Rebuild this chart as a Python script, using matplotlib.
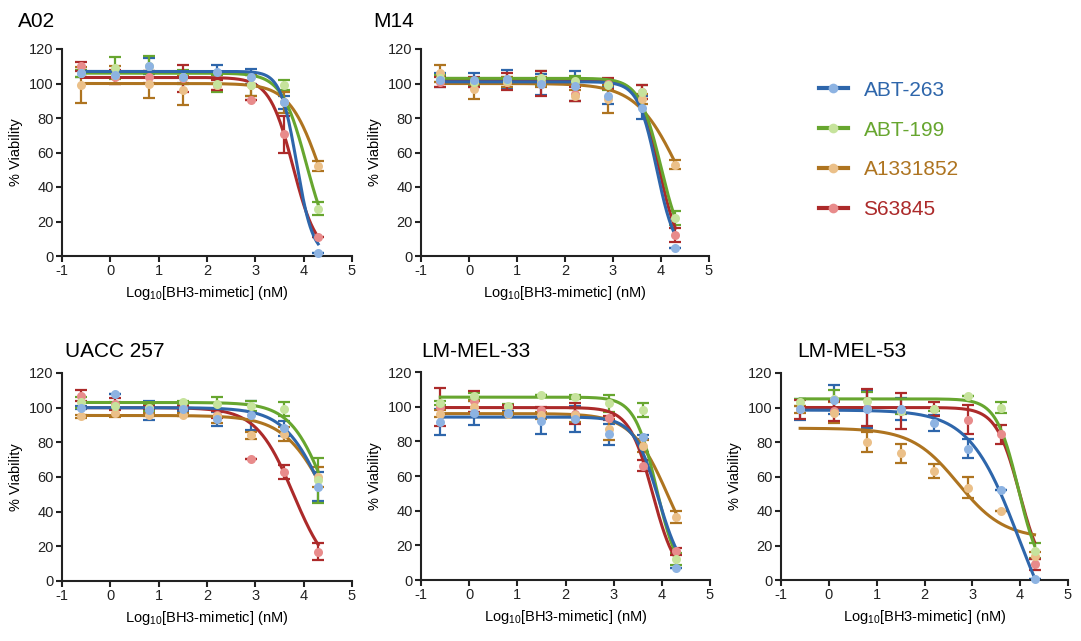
import numpy as np
import matplotlib
matplotlib.use("Agg")
import matplotlib.pyplot as plt
from matplotlib.lines import Line2D

plt.rcParams['font.family'] = ['Liberation Sans', 'DejaVu Sans']
plt.rcParams['mathtext.fontset'] = 'custom'
plt.rcParams['mathtext.rm'] = 'Liberation Sans'
plt.rcParams['axes.unicode_minus'] = False

# ==========================================
# DATA
# ==========================================
log_conc = [-0.6, 0.1, 0.8, 1.5, 2.2, 2.9, 3.6, 4.3]

drugs = ["ABT-263", "ABT-199", "A1331852", "S63845"]
line_colors = ["#2e66ab", "#67a62f", "#ae7420", "#ac2a2a"]
dot_colors = ["#8db3e2", "#c6e39c", "#ebc089", "#e88b8b"]

panels = ["A02", "M14", "UACC 257", "LM-MEL-33", "LM-MEL-53"]

# mean viability per drug (order as in drugs)
a02_mean = [
    [106, 105, 110, 103.5, 106.5, 104, 89, 2],
    [106, 109, 110, 104, 100, 99, 99, 27.5],
    [99, 105, 99.5, 96, 99, 99, 89, 52],
    [110, 104, 104, 103, 99, 90.5, 70.5, 11],
]
a02_err = [
    [2, 2, 4.5, 3, 4, 4.5, 4, 0],
    [2, 6.5, 6, 4, 5, 6, 3, 4],
    [10.5, 5, 8, 8.5, 3, 6, 6, 3],
    [2.5, 4, 3.5, 8, 3, 0, 10.5, 0],
]
m14_mean = [
    [102, 102, 102.5, 99.5, 98.5, 93, 86, 4.5],
    [103, 101, 102, 103, 101.5, 99, 95, 22],
    [106, 97, 101, 101, 93, 91, 91, 53],
    [101, 101, 101, 100, 94, 100, 95, 12],
]
m14_err = [
    [4, 4, 5.5, 6, 8.5, 5, 6.5, 0],
    [2, 2, 2, 4, 3, 3, 4, 4],
    [5, 6, 3, 3, 3, 8, 3, 2.5],
    [3, 3, 5, 7, 4, 3, 4, 4],
]
uacc_mean = [
    [100, 108, 98.5, 99, 93.5, 95.5, 88, 54.5],
    [103, 101, 100, 103, 102, 101, 99, 58],
    [95, 97, 96, 96, 95, 84, 85, 60],
    [107, 102, 100, 100, 96, 70.5, 63, 17],
]
uacc_err = [
    [1, 0, 5.5, 1, 4, 8.5, 4.5, 8.5],
    [3, 2, 2, 1, 4, 3, 4, 13],
    [1, 2.5, 1, 1, 4, 2, 4, 6],
    [3, 3.5, 1, 1, 2, 0, 4, 5],
]
mel33_mean = [
    [91, 96.5, 96.5, 91.5, 93, 84, 82.5, 7],
    [102, 106, 100.5, 107, 105.5, 102, 98, 12],
    [96, 100, 96, 95, 95, 87, 77.5, 36.5],
    [100, 103, 100, 98, 96, 93.5, 66, 16.5],
]
mel33_err = [
    [7.5, 7, 1, 7.5, 7.5, 6, 1, 0],
    [1, 2, 1, 0, 1, 5, 4, 3.5],
    [2, 3, 1, 2, 4, 6, 3.5, 3.5],
    [11, 6, 1, 2, 6, 1, 3, 2],
]
mel53_mean = [
    [99, 104.5, 99, 99, 91, 76, 52, 0.5],
    [103, 105, 104, 98, 99, 106.5, 100, 17],
    [99, 97, 80, 73.5, 63, 53.5, 40, 14],
    [99, 98, 100, 98, 99, 93, 84.5, 9],
]
mel53_err = [
    [6, 8.5, 11, 6.5, 4.5, 5.5, 0, 0],
    [2, 5, 5, 2, 1, 0, 3, 4.5],
    [2, 6, 6, 5.5, 4, 6, 0, 2],
    [5.5, 6, 10.5, 10.5, 4, 8.5, 5.5, 3],
]

# fitted 4PL parameters per drug: (top, bottom, logIC50, hill)
a02_fit = [(107, 0, 3.856, 2.6), (106, 0, 4.06, 1.69), (100, 0, 4.34, 1.36), (103.5, 0, 3.78, 1.78)]
m14_fit = [(101, 0, 3.91, 2.23), (103, 0, 4.0, 1.91), (100, 0, 4.37, 0.98), (102, 0, 3.96, 2.13)]
uacc_fit = [(100, 0, 4.43, 1.04), (103, 0, 4.47, 1.17), (95.5, 0, 4.5, 0.96), (100, 0, 3.79, 1.13)]
mel33_fit = [(94, 0, 3.93, 1.7), (105.5, 0, 3.89, 1.92), (96, 0, 4.14, 1.13), (99.5, 0, 3.81, 1.77)]
mel53_fit = [(98.5, -50, 3.97, 0.84), (105, 0, 3.965, 1.875), (88, 24, 2.7, 0.9), (100, 0, 3.99, 1.77)]

means = [a02_mean, m14_mean, uacc_mean, mel33_mean, mel53_mean]
errs = [a02_err, m14_err, uacc_err, mel33_err, mel53_err]
fits = [a02_fit, m14_fit, uacc_fit, mel33_fit, mel53_fit]


def four_pl(x, top, bottom, logic50, hill):
    return bottom + (top - bottom) / (1 + 10 ** ((x - logic50) * hill))


# ==========================================
# LAYOUT (pixel boxes of the axes in a 1081x641 canvas)
# ==========================================
W, H = 1081, 641
axes_px = [(62, 49, 290, 207), (421, 49, 288, 207),
           (62, 373, 290, 208), (421, 372, 289, 208), (781, 373, 287, 207)]
title_px = [(18, 27), (373, 27), (65, 357), (421, 357), (797, 357)]

fig = plt.figure(figsize=(W / 100, H / 100), dpi=100)
spine_c = "#222222"

for i, name in enumerate(panels):
    l, t, w, h = axes_px[i]
    ax = fig.add_axes([l / W, 1 - (t + h) / H, w / W, h / H])
    xs = np.linspace(log_conc[0], log_conc[-1], 300)
    # S63845 first, ABT-263 on top
    for d in [3, 2, 1, 0]:
        ax.errorbar(log_conc, means[i][d], yerr=errs[i][d], fmt='none',
                    ecolor=line_colors[d], elinewidth=1.6, capsize=4,
                    capthick=1.6, zorder=2 + d * 0.1, clip_on=False)
        ax.plot(xs, four_pl(xs, *fits[i][d]), color=line_colors[d],
                lw=2.2, zorder=3 + (3 - d) * 0.1, clip_on=False)
        ax.plot(log_conc, means[i][d], 'o', color=dot_colors[d], ms=6.5,
                mec='none', zorder=4 + (3 - d) * 0.1, clip_on=False)

    ax.set_xlim(-1, 5)
    ax.set_ylim(0, 120)
    ax.set_xticks(range(-1, 6))
    ax.set_yticks(range(0, 121, 20))
    for s in ['top', 'right']:
        ax.spines[s].set_visible(False)
    for s in ['left', 'bottom']:
        ax.spines[s].set_linewidth(1.5)
        ax.spines[s].set_color(spine_c)
    ax.tick_params(direction='out', length=4, width=1.5, color=spine_c,
                   labelsize=10.5, labelcolor="#222222", pad=2)
    ax.set_ylabel("% Viability", fontsize=10.5, labelpad=4)
    ax.set_xlabel(r"Log$_{\mathregular{10}}$[BH3-mimetic] (nM)", fontsize=10.5, labelpad=4)

    tx, ty = title_px[i]
    fig.text(tx / W, 1 - ty / H, name, fontsize=15, ha='left', va='baseline')

# legend in the empty top-right slot
handles = [Line2D([0], [0], color=line_colors[d], lw=3, marker='o',
                  ms=7, mfc=dot_colors[d], mec='none') for d in range(4)]
leg = fig.legend(handles, drugs, loc='upper left',
                 bbox_to_anchor=(800 / W, 1 - 62 / H), frameon=False,
                 fontsize=15, labelspacing=1.0, handlelength=1.4,
                 handletextpad=0.75)
for txt, c in zip(leg.get_texts(), line_colors):
    txt.set_color(c)

plt.savefig("out.png", dpi=100)
